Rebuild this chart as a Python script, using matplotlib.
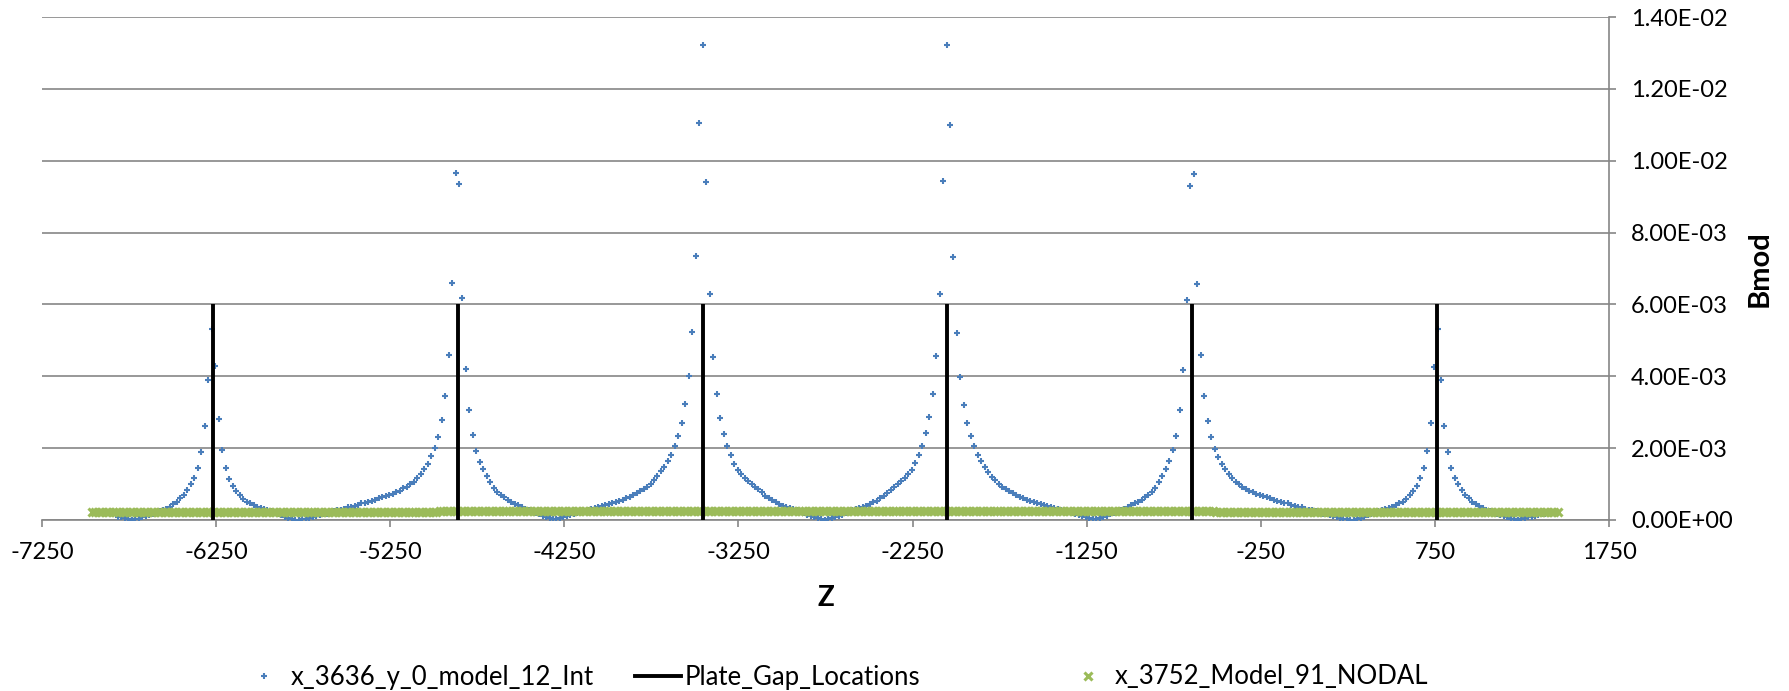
import numpy as np
import matplotlib
matplotlib.use("Agg")
import matplotlib.pyplot as plt
from matplotlib.lines import Line2D

plt.rcParams['font.family'] = ['Lato', 'DejaVu Sans']

# Bmod along z at x=3636, y=0 (model 12, interpolated), one sample every 20 mm, in 1e-3 T
int_z_first = -6815
int_z_step = 20
int_bmod_e3 = [
    0.09, 0.07, 0.05, 0.03, 0.01, 0.02, 0.04, 0.07, 0.10, 0.13, 0.16, 0.20, 0.24, 0.28, 0.32,
    0.37, 0.44, 0.51, 0.60, 0.69, 0.83, 1.00, 1.17, 1.46, 1.89, 2.61, 3.91,
    5.32, 4.28, 2.80, 1.94, 1.44, 1.15, 0.96, 0.80, 0.69, 0.59, 0.51, 0.46, 0.41, 0.36, 0.34,
    0.31, 0.28, 0.25, 0.21, 0.17, 0.13, 0.09, 0.06, 0.03, 0.01,
    0.01, 0.02, 0.04, 0.06, 0.08, 0.11, 0.13, 0.16, 0.18, 0.21, 0.24, 0.27, 0.29, 0.32, 0.35,
    0.37, 0.40, 0.43, 0.46, 0.48, 0.51, 0.54, 0.57, 0.60, 0.63, 0.66, 0.69, 0.73, 0.77, 0.82,
    0.88, 0.93, 0.99, 1.06, 1.16, 1.29, 1.43, 1.57, 1.78, 2.01, 2.31, 2.78, 3.45, 4.59, 6.59,
    9.65, 9.35, 6.17, 4.19, 3.06, 2.36, 1.93, 1.62, 1.41, 1.22, 1.05, 0.90, 0.79, 0.70, 0.63,
    0.56, 0.50, 0.45, 0.41, 0.36, 0.31, 0.27, 0.23, 0.19, 0.16, 0.12, 0.09, 0.06, 0.03,
    0.02, 0.05, 0.09, 0.11, 0.14, 0.17, 0.19, 0.22, 0.25, 0.27, 0.30, 0.33, 0.36, 0.39, 0.41,
    0.44, 0.47, 0.50, 0.53, 0.57, 0.61, 0.65, 0.70, 0.74, 0.80, 0.86, 0.93, 1.00, 1.11, 1.23,
    1.36, 1.48, 1.64, 1.82, 2.06, 2.33, 2.71, 3.23, 4.00, 5.24, 7.35, 11.05,
    13.21, 9.41, 6.28, 4.54, 3.50, 2.84, 2.40, 2.06, 1.80, 1.57, 1.40, 1.28, 1.17, 1.08, 1.00,
    0.93, 0.86, 0.77, 0.68, 0.61, 0.55, 0.49, 0.44, 0.40, 0.36, 0.33, 0.30, 0.27, 0.23, 0.19,
    0.15, 0.12, 0.09, 0.06, 0.03,
    0.00, 0.03, 0.06, 0.09, 0.12, 0.15, 0.19, 0.23, 0.27, 0.30, 0.33, 0.36, 0.40, 0.44, 0.49,
    0.54, 0.60, 0.67, 0.75, 0.84, 0.92, 1.00, 1.08, 1.17, 1.28, 1.40, 1.58, 1.81, 2.07, 2.41,
    2.86, 3.52, 4.56, 6.30, 9.43, 13.21,
    10.99, 7.31, 5.20, 3.98, 3.21, 2.70, 2.33, 2.05, 1.82, 1.63, 1.48, 1.34, 1.21, 1.10, 1.00,
    0.92, 0.86, 0.80, 0.74, 0.70, 0.65, 0.61, 0.57, 0.53, 0.50, 0.47, 0.44, 0.41, 0.39, 0.36,
    0.33, 0.30, 0.27, 0.25, 0.22, 0.19, 0.17, 0.14, 0.11, 0.09, 0.05, 0.02,
    0.03, 0.06, 0.09, 0.12, 0.16, 0.19, 0.23, 0.27, 0.31, 0.36, 0.41, 0.46, 0.51, 0.57, 0.63,
    0.70, 0.79, 0.90, 1.05, 1.22, 1.41, 1.64, 1.94, 2.35, 3.05, 4.17, 6.12, 9.30, 9.62,
    6.57, 4.58, 3.45, 2.76, 2.30, 1.99, 1.75, 1.56, 1.42, 1.29, 1.17, 1.07, 0.99, 0.92, 0.86,
    0.81, 0.77, 0.73, 0.69, 0.66, 0.63, 0.60, 0.57, 0.54, 0.51, 0.48, 0.46, 0.43, 0.40, 0.37,
    0.35, 0.32, 0.29, 0.27, 0.24, 0.21, 0.18, 0.16, 0.13, 0.11, 0.08, 0.06, 0.04, 0.02, 0.01,
    0.01, 0.03, 0.06, 0.09, 0.13, 0.17, 0.21, 0.25, 0.28, 0.31, 0.34, 0.37, 0.41, 0.46, 0.51,
    0.59, 0.69, 0.80, 0.96, 1.16, 1.45, 1.92, 2.70, 4.26, 5.32,
    3.91, 2.62, 1.89, 1.45, 1.17, 0.99, 0.83, 0.70, 0.60, 0.51, 0.44, 0.38, 0.33, 0.28, 0.24,
    0.20, 0.16, 0.13, 0.10, 0.07, 0.04, 0.02, 0.01, 0.03, 0.05, 0.07, 0.09, 0.11, 0.14, 0.16,
    0.18, 0.20, 0.22,
]

# Bmod from the nodal solution (model 91, x=3752), one sample every 20 mm, in 1e-3 T
nodal_z_first = -6965
nodal_z_step = 20
nodal_bmod_e3 = (
    [0.22] * 20 + [0.22] * 20
    + [0.23] * 20 + [0.23] * 20 + [0.23] * 20
    + [0.24] * 20 + [0.24] * 20 + [0.24] * 20
    + [0.25] * 20 + [0.25] * 20 + [0.25] * 20 + [0.25] * 20 + [0.25] * 20 + [0.25] * 3
    + [0.24] * 17 + [0.24] * 20 + [0.24] * 20 + [0.24] * 3
    + [0.23] * 17 + [0.23] * 20 + [0.23] * 20 + [0.23] * 3
    + [0.22] * 17 + [0.22] * 20 + [0.22] * 2
)

# plate gap positions along z, drawn as markers up to gap_height
gap_z = [-6268, -4862, -3456, -2050, -644, 762]
gap_height = 0.006

x_ticks = [-7250, -6250, -5250, -4250, -3250, -2250, -1250, -250, 750, 1750]
y_ticks = [0.0, 0.002, 0.004, 0.006, 0.008, 0.010, 0.012, 0.014]

series_names = ["x_3636_y_0_model_12_Int", "Plate_Gap_Locations", "x_3752_Model_91_NODAL"]

blue = "#4A7EBB"
green = "#9BBB59"
axis_grey = "#868686"

int_z = int_z_first + int_z_step * np.arange(len(int_bmod_e3))
int_b = np.array(int_bmod_e3) * 1e-3
nodal_z = nodal_z_first + nodal_z_step * np.arange(len(nodal_bmod_e3))
nodal_b = np.array(nodal_bmod_e3) * 1e-3

gap_x, gap_y = [], []
for g in gap_z:
    gap_x += [g, g, np.nan]
    gap_y += [0.0, gap_height, np.nan]

W, H = 1789, 691
fig = plt.figure(figsize=(W / 100, H / 100), dpi=100)
left_px, right_px, top_px, bottom_px = 42, 1609, 17, 520
ax = fig.add_axes([left_px / W, 1 - bottom_px / H,
                   (right_px - left_px) / W, (bottom_px - top_px) / H])

blue_style = dict(linestyle="none", marker="+", markersize=4.8, markeredgewidth=1.5, color=blue)
green_style = dict(linestyle="none", marker="x", markersize=6.2, markeredgewidth=2.2, color=green)
gap_style = dict(color="black", linewidth=2.8)

ax.plot(int_z, int_b, zorder=3, **blue_style)
ax.plot(nodal_z, nodal_b, zorder=4, **green_style)
ax.plot(gap_x, gap_y, zorder=5, solid_capstyle="butt", **gap_style)

ax.set_xlim(x_ticks[0], x_ticks[-1])
ax.set_ylim(y_ticks[0], y_ticks[-1])
ax.set_xticks(x_ticks)
ax.set_xticklabels([str(t) for t in x_ticks])
ax.set_yticks(y_ticks)
ax.set_yticklabels([f"{v:.2E}" for v in y_ticks])

ax.yaxis.tick_right()
ax.yaxis.set_label_position("right")
for side in ("left", "top"):
    ax.spines[side].set_visible(False)
for side in ("bottom", "right"):
    ax.spines[side].set_color(axis_grey)
    ax.spines[side].set_linewidth(1.2)

ax.yaxis.grid(True, color=axis_grey, linewidth=1.2)
ax.set_axisbelow(True)
ax.tick_params(axis="x", direction="out", length=5, width=1.2, color=axis_grey,
               labelsize=17, pad=11)
ax.tick_params(axis="y", direction="out", length=5, width=1.2, color=axis_grey,
               labelsize=17, pad=11)

ax.set_xlabel("Z", fontsize=20, fontweight="bold")
ax.xaxis.set_label_coords(0.5, -(598 - bottom_px) / (bottom_px - top_px))
ax.xaxis.label.set_va("center")
ax.set_ylabel("Bmod", fontsize=21, fontweight="bold", rotation=90)
ax.yaxis.set_label_coords((1760 - left_px) / (right_px - left_px), 0.5)
ax.yaxis.label.set_va("center")
ax.yaxis.label.set_ha("center")

handles = [
    Line2D([], [], **blue_style),
    Line2D([], [], **gap_style),
    Line2D([], [], **green_style),
]
legend_x_px = [241, 635, 1065]
legend_y = 1 - 677 / H
for h, name, xp in zip(handles, series_names, legend_x_px):
    fig.legend([h], [name], loc="center left", bbox_to_anchor=(xp / W, legend_y),
               frameon=False, fontsize=18.5, handlelength=1.8, handletextpad=0.15,
               borderpad=0, borderaxespad=0)

fig.savefig("out.png", dpi=100)
